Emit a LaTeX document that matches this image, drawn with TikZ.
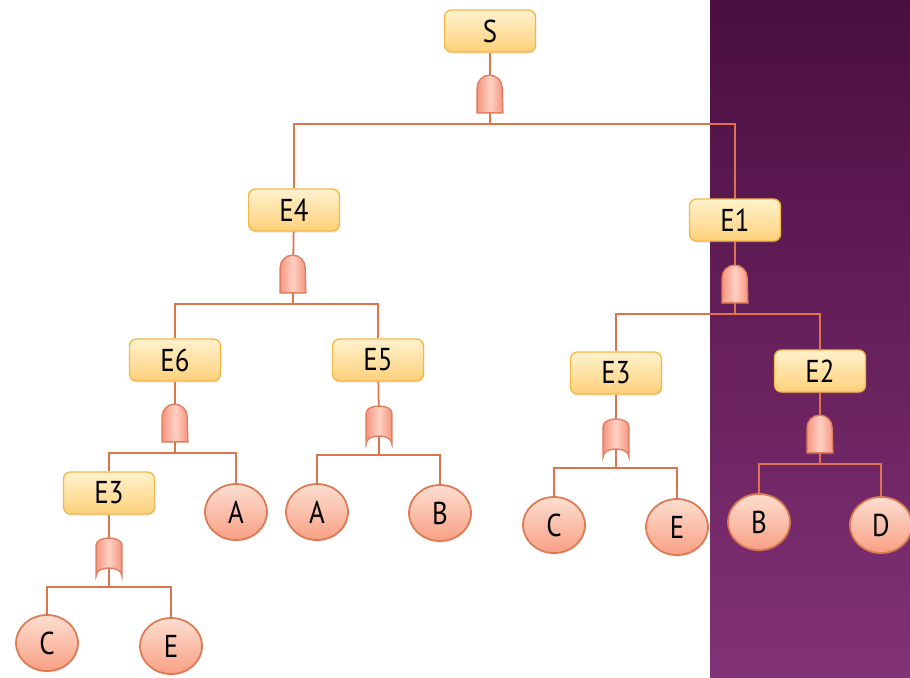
\documentclass[tikz,border=0pt]{standalone}
\usepackage{fontspec}
\setmainfont[FakeStretch=0.85]{PT Sans}
\usepackage{tikz}
\usetikzlibrary{calc,shapes.geometric,shadows}
\definecolor{wirec}{RGB}{222,116,78}
\definecolor{boxline}{RGB}{244,184,72}
\definecolor{boxtop}{RGB}{255,242,205}
\definecolor{boxbot}{RGB}{253,208,122}
\definecolor{evline}{RGB}{222,122,82}
\definecolor{evtop}{RGB}{253,222,208}
\definecolor{evbot}{RGB}{248,160,132}
\definecolor{gateline}{RGB}{226,126,96}
\definecolor{gateside}{RGB}{244,150,128}
\definecolor{gatemid}{RGB}{255,208,194}
\definecolor{purtop}{RGB}{74,14,64}
\definecolor{purbot}{RGB}{130,50,118}
\tikzset{
	event/.style={draw=boxline, line width=0.8pt, rounded corners=4pt, top color=boxtop, bottom color=boxbot,
		minimum width=1.82cm, minimum height=0.84cm, inner sep=0pt, font=\fontsize{18}{20}\selectfont,
		drop shadow={opacity=0.15, shadow xshift=0.5pt, shadow yshift=-1pt}},
	basic/.style={ellipse, draw=evline, line width=1pt, top color=evtop, bottom color=evbot,
		minimum width=1.24cm, minimum height=1.12cm, inner sep=0pt, font=\fontsize{18}{20}\selectfont,
		drop shadow={opacity=0.15, shadow xshift=0.5pt, shadow yshift=-1pt}},
	gatebox/.style={minimum width=0.5cm, minimum height=0.74cm, inner sep=0pt},
	gateshape/.style={draw=gateline, line width=0.8pt, left color=gateside, right color=gateside, middle color=gatemid},
	wire/.style={draw=wirec, line width=1pt}
}
\def\andgate#1{\draw[gateshape] (#1.south west) -- ([yshift=-0.25cm]#1.north west) arc (180:0:0.25cm) -- (#1.south east) -- cycle;}
\def\orgate#1{\draw[gateshape] (#1.south west) -- ([yshift=-0.14cm]#1.north west) .. controls ([yshift=0.05cm]#1.north west) and ([yshift=0.05cm]#1.north east) .. ([yshift=-0.14cm]#1.north east) -- (#1.south east) .. controls ([yshift=0.21cm]#1.south east) and ([yshift=0.21cm]#1.south west) .. (#1.south west) -- cycle;}
\begin{document}
\begin{tikzpicture}[x=0.02cm, y=-0.02cm]
			%%%%% START %%%%%
			\useasboundingbox (0,0) rectangle (910,677);
			\shade[top color=purtop, bottom color=purbot] (710,0) rectangle (910,677);
			
			% events
			\node[event] (S) at (490,31) {S};
			\node[event] (E4) at (294,210) {E4};
			\node[event] (E1) at (735,220) {E1};
			\node[event] (E6) at (175,360) {E6};
			\node[event] (E5) at (378,360) {E5};
			\node[event] (E3a) at (109,493) {E3};
			\node[event] (E3b) at (616,373) {E3};
			\node[event] (E2) at (820,371) {E2};
			
			% gates
			\node[gatebox] (gS) at (490,94) {};
			\node[gatebox] (gE4) at (293,274) {};
			\node[gatebox] (gE1) at (735,284) {};
			\node[gatebox] (gE6) at (175,423) {};
			\node[gatebox] (gE5) at (379,425) {};
			\node[gatebox] (gE3a) at (109,557) {};
			\node[gatebox] (gE3b) at (616,438) {};
			\node[gatebox] (gE2) at (820,434) {};
			
			% basic events
			\node[basic] (Aa) at (236,512) {A};
			\node[basic] (Ab) at (317,512) {A};
			\node[basic] (Ba) at (440,513) {B};
			\node[basic] (Ca) at (47,643) {C};
			\node[basic] (Ea) at (171,646) {E};
			\node[basic] (Cb) at (554,525) {C};
			\node[basic] (Eb) at (677,527) {E};
			\node[basic] (Bb) at (759,522) {B};
			\node[basic] (D) at (881,525) {D};
			
			% wires
			\foreach \ev/\gt in {S/gS, E4/gE4, E1/gE1, E6/gE6, E5/gE5, E3a/gE3a, E3b/gE3b, E2/gE2}
				\draw[wire] (\ev) -- (\gt);
			\foreach \gt/\ch in {gS/E4, gS/E1, gE4/E6, gE4/E5, gE1/E3b, gE1/E2, gE6/E3a, gE6/Aa, gE5/Ab, gE5/Ba, gE3a/Ca, gE3a/Ea, gE3b/Cb, gE3b/Eb, gE2/Bb, gE2/D}
				\draw[wire] ([yshift=0.16cm]\gt.south) -- ([yshift=-0.22cm]\gt.south) -| (\ch);
			
			\andgate{gS}
			\andgate{gE4}
			\andgate{gE1}
			\andgate{gE6}
			\orgate{gE5}
			\orgate{gE3a}
			\orgate{gE3b}
			\andgate{gE2}
			%%%%% END %%%%%
\end{tikzpicture}
\end{document}
